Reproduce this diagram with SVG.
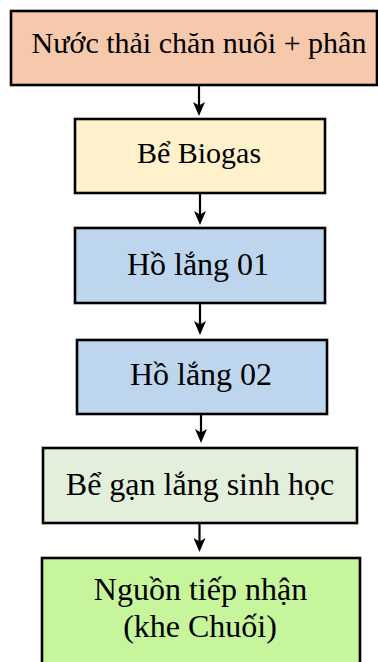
<svg xmlns="http://www.w3.org/2000/svg" width="378" height="662" viewBox="0 0 378 662">
  <defs>
    <marker id="arrow" viewBox="0 0 14 12" refX="9" refY="6" markerWidth="14" markerHeight="12" markerUnits="userSpaceOnUse" orient="auto">
      <path d="M0,0 L14,6 L0,12 L3.5,6 Z" fill="#000"/>
    </marker>
  </defs>
  <style>
    .box { stroke: #000; stroke-width: 2.6; }
    .lbl { font-family: "Liberation Serif", "Times New Roman", serif; fill: #000; text-anchor: middle; }
    .conn { stroke: #000; stroke-width: 2.2; fill: none; marker-end: url(#arrow); }
  </style>
  <rect width="378" height="662" fill="#fff"/>

  <g id="connectors">
    <line class="conn" x1="199" y1="85" x2="199" y2="111"/>
    <line class="conn" x1="200" y1="193" x2="200" y2="220"/>
    <line class="conn" x1="200" y1="303" x2="200" y2="330"/>
    <line class="conn" x1="201" y1="414" x2="201" y2="438"/>
    <line class="conn" x1="199.5" y1="523" x2="199.5" y2="547"/>
  </g>

  <g id="nuoc-thai">
    <rect class="box" x="11" y="11" width="366" height="74" fill="#F7C9AC"/>
    <text class="lbl" x="199" y="53" font-size="30">Nước thải chăn nuôi + phân</text>
  </g>

  <g id="be-biogas">
    <rect class="box" x="75" y="119" width="250" height="74" fill="#FFF1CC"/>
    <text class="lbl" x="199" y="163" font-size="30">Bể Biogas</text>
  </g>

  <g id="ho-lang-01">
    <rect class="box" x="75" y="228" width="250" height="75" fill="#BDD6EE"/>
    <text class="lbl" x="198" y="275" font-size="32">Hồ lắng 01</text>
  </g>

  <g id="ho-lang-02">
    <rect class="box" x="77" y="340" width="250" height="74" fill="#BDD6EE"/>
    <text class="lbl" x="201" y="385" font-size="32">Hồ lắng 02</text>
  </g>

  <g id="be-gan-lang">
    <rect class="box" x="43" y="448" width="314" height="75" fill="#E2EFDA"/>
    <text class="lbl" x="200" y="495" font-size="32">Bể gạn lắng sinh học</text>
  </g>

  <g id="nguon-tiep-nhan">
    <rect class="box" x="42" y="558" width="318" height="120" fill="#C6F59B"/>
    <text class="lbl" x="200.5" y="600" font-size="32">Nguồn tiếp nhận</text>
    <text class="lbl" x="200" y="637" font-size="32">(khe Chuối)</text>
  </g>
</svg>
